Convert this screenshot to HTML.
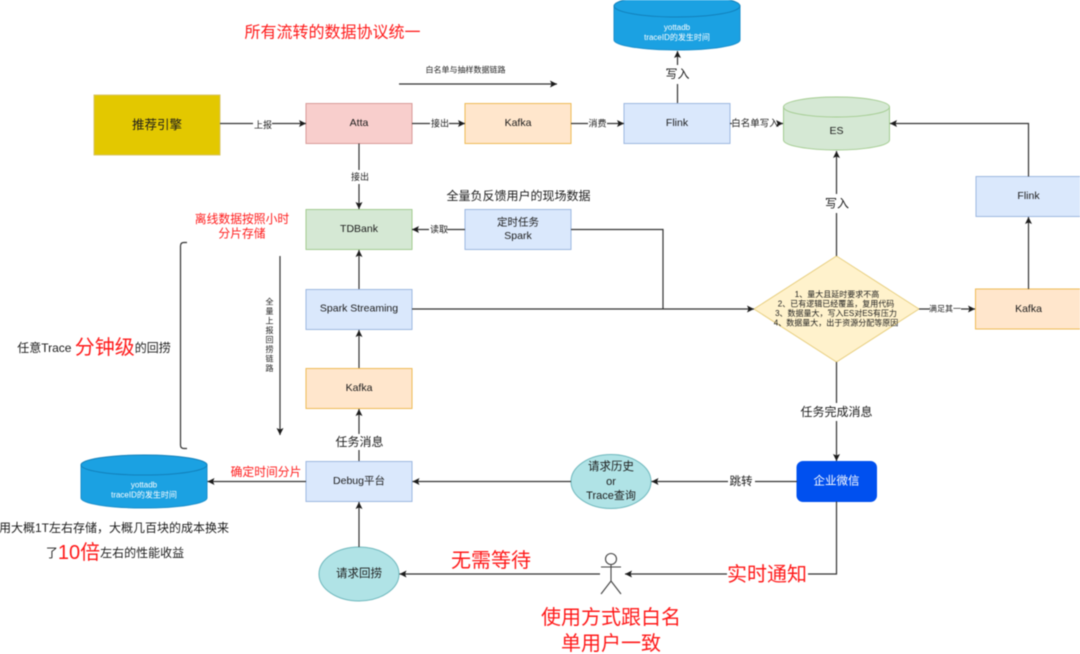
<!DOCTYPE html>
<html><head><meta charset="utf-8"><style>
html,body{margin:0;padding:0;background:#fff}
svg{display:block;filter:blur(.55px)}
text{font-family:"Liberation Sans","Noto Sans CJK SC",sans-serif;fill:#1c1c1c;text-anchor:middle;dominant-baseline:central}
.r{fill:#ff1a1a}
.w{fill:#fff}
.l{fill:none;stroke:#333;stroke-width:1.2}
</style></head><body>
<svg width="1080" height="654" viewBox="0 0 1080 654" xmlns="http://www.w3.org/2000/svg">
<defs><marker id="a" markerWidth="8" markerHeight="8" refX="7" refY="3.500" orient="auto" markerUnits="userSpaceOnUse"><path d="M0 0L7 3.500L0 7L1.500 3.500Z" fill="#1c1c1c"/></marker></defs>
<rect width="1080" height="654" fill="#fff"/>

<!-- nodes -->
<rect x="94" y="95" width="126" height="60" fill="#e3c800" stroke="#d8c66a"/>
<rect x="306" y="103.500" width="106" height="40" fill="#f8cecc" stroke="#d99a98"/>
<rect x="465" y="103.500" width="106" height="40" fill="#ffe6cc" stroke="#eebb55"/>
<rect x="624" y="103.500" width="106" height="40" fill="#dae8fc" stroke="#9db8e0"/>
<path d="M614 6V40A63 10 0 0 0 740 40V6Z" fill="#1ba1e2" stroke="#1a8fcc"/>
<ellipse cx="677" cy="6" rx="63" ry="11" fill="#1ba1e2" stroke="#1280bb"/>
<path d="M783.500 107V140A53 10 0 0 0 889.500 140V107Z" fill="#d5e8d4" stroke="#a3cc90"/>
<ellipse cx="836.500" cy="107" rx="53" ry="10" fill="#d5e8d4" stroke="#a3cc90"/>
<rect x="976" y="176.500" width="110" height="40" fill="#dae8fc" stroke="#9db8e0"/>
<rect x="306" y="209.500" width="106" height="40" fill="#d5e8d4" stroke="#a3cc90"/>
<rect x="465" y="209.500" width="106" height="40" fill="#dae8fc" stroke="#9db8e0"/>
<rect x="306" y="289.500" width="106" height="40" fill="#dae8fc" stroke="#9db8e0"/>
<rect x="975.500" y="289" width="110" height="40" fill="#ffe6cc" stroke="#eebb55"/>
<rect x="306" y="368.500" width="106" height="40" fill="#ffe6cc" stroke="#eebb55"/>
<rect x="306" y="461.500" width="106" height="40" fill="#dae8fc" stroke="#9db8e0"/>
<rect x="797" y="461.500" width="79.500" height="40" rx="6" fill="#0050ef" stroke="#0050ef"/>
<path d="M836.500 256L919 309L836.500 362L754 309Z" fill="#fff2cc" stroke="#e8cf80"/>
<ellipse cx="611" cy="481.500" rx="40" ry="27" fill="#b0e3e6" stroke="#6fb8bd"/>
<ellipse cx="359" cy="574" rx="40" ry="27" fill="#b0e3e6" stroke="#6fb8bd"/>
<path d="M81 465V498A63 10 0 0 0 207 498V465Z" fill="#1ba1e2" stroke="#1a8fcc"/>
<ellipse cx="144" cy="465" rx="63" ry="10" fill="#1ba1e2" stroke="#1280bb"/>

<!-- actor -->
<g fill="none" stroke="#444" stroke-width="1.100">
<circle cx="611" cy="559" r="5.500" fill="#fff"/>
<path d="M611 564.500V581M601 567H621M611 581L601 594M611 581L621 594"/>
</g>

<!-- connectors -->
<g class="l">
<path d="M220 123.500H253M272 123.500H306" marker-end="url(#a)"/>
<path d="M412 123.500H430M449 123.500H465" marker-end="url(#a)"/>
<path d="M571 123.500H588M607 123.500H624" marker-end="url(#a)"/>
<path d="M730 123.500H732M778 123.500H783" marker-end="url(#a)"/>
<path d="M399 84H557" marker-end="url(#a)"/>
<path d="M677.500 103V84M677.500 65V51" marker-end="url(#a)"/>
<path d="M359 143.500V170M359 184V209" marker-end="url(#a)"/>
<path d="M465 229.500H447M429 229.500H412" marker-end="url(#a)"/>
<path d="M571 229.500H663V309"/>
<path d="M412 309H754" marker-end="url(#a)"/>
<path d="M359 289V250" marker-end="url(#a)"/>
<path d="M359 368V330" marker-end="url(#a)"/>
<path d="M359 461V450M359 434V409" marker-end="url(#a)"/>
<path d="M306 481.500H207.500" marker-end="url(#a)"/>
<path d="M571 481.500H412.500" marker-end="url(#a)"/>
<path d="M797 481.500H755M728 481.500H651.500" marker-end="url(#a)"/>
<path d="M836.500 362V403M836.500 421V461" marker-end="url(#a)"/>
<path d="M836.500 256V213M836.500 194V151" marker-end="url(#a)"/>
<path d="M919 309H930M961 309H975" marker-end="url(#a)"/>
<path d="M1028.500 289V217" marker-end="url(#a)"/>
<path d="M1028.500 176.500V123.500H890" marker-end="url(#a)"/>
<path d="M836.500 501.500V574H808M727 574H625" marker-end="url(#a)"/>
<path d="M600 574H399.500" marker-end="url(#a)"/>
<path d="M359 547V502" marker-end="url(#a)"/>
<path d="M280 256V435" marker-end="url(#a)"/>
<path d="M187 242.500H184Q180.500 242.500 180.500 246V445Q180.500 448.500 184 448.500H187"/>
</g>

<!-- node text -->
<text x="157" y="125" font-size="12.500">推荐引擎</text>
<text x="359" y="123" font-size="10.500">Atta</text>
<text x="518" y="123" font-size="10.500">Kafka</text>
<text x="677" y="123" font-size="10.500">Flink</text>
<text x="836.500" y="131" font-size="10.500">ES</text>
<text x="1028.500" y="196" font-size="10.500">Flink</text>
<text x="359" y="229" font-size="10.500">TDBank</text>
<text x="518" y="222.500" font-size="10.500">定时任务</text>
<text x="518" y="236" font-size="10.500">Spark</text>
<text x="359" y="308.500" font-size="10.500">Spark Streaming</text>
<text x="1028.500" y="309" font-size="10.500">Kafka</text>
<text x="359" y="388" font-size="10.500">Kafka</text>
<text x="359" y="481" font-size="10.500">Debug平台</text>
<text x="836.500" y="481.500" font-size="11.500" class="w">企业微信</text>
<text x="611" y="467" font-size="11.500">请求历史</text>
<text x="611" y="482" font-size="11">or</text>
<text x="611" y="496" font-size="11">Trace查询</text>
<text x="359" y="574" font-size="11.500">请求回捞</text>
<text x="677" y="27.500" font-size="8" class="w">yottadb</text>
<text x="677" y="37.500" font-size="8" class="w">traceID的发生时间</text>
<text x="144" y="485" font-size="8" class="w">yottadb</text>
<text x="144" y="495" font-size="8" class="w">traceID的发生时间</text>
<text x="837" y="294.500" font-size="8">1、量大且延时要求不高</text>
<text x="836" y="304" font-size="8">2、已有逻辑已经覆盖，复用代码</text>
<text x="836" y="313.500" font-size="8">3、数据量大，写入ES对ES有压力</text>
<text x="836" y="323" font-size="8">4、数据量大，出于资源分配等原因</text>

<!-- connector labels -->
<text x="263" y="125" font-size="9">上报</text>
<text x="440" y="123.500" font-size="9">接出</text>
<text x="597.500" y="123.500" font-size="9">消费</text>
<text x="755" y="124" font-size="9.500">白名单写入</text>
<text x="465.500" y="70" font-size="8">白名单与抽样数据链路</text>
<text x="677.500" y="74" font-size="12">写入</text>
<text x="360" y="177" font-size="9">接出</text>
<text x="439" y="229.500" font-size="9">读取</text>
<text x="837" y="203.500" font-size="12">写入</text>
<text x="945" y="309" font-size="8">满足其一</text>
<text x="359.500" y="442" font-size="12">任务消息</text>
<text x="836.500" y="412" font-size="12">任务完成消息</text>
<text x="741" y="482" font-size="11.500">跳转</text>
<g font-size="8"><text x="269.500" y="302">全</text><text x="269.500" y="311.500">量</text><text x="269.500" y="321">上</text><text x="269.500" y="330.500">报</text><text x="269.500" y="340">回</text><text x="269.500" y="349.500">捞</text><text x="269.500" y="359">链</text><text x="269.500" y="368.500">路</text></g>

<!-- annotations -->
<text x="332.500" y="33" font-size="16" class="r">所有流转的数据协议统一</text>
<text x="518.500" y="196" font-size="12">全量负反馈用户的现场数据</text>
<text x="242" y="219" font-size="11.800" class="r">离线数据按照小时</text>
<text x="242" y="233.500" font-size="11.800" class="r">分片存储</text>
<text x="94" y="348" font-size="12"><tspan>任意Trace </tspan><tspan font-size="20" style="fill:#ff1a1a">分钟级</tspan><tspan>的回捞</tspan></text>
<text x="266" y="472" font-size="11.800" class="r">确定时间分片</text>
<text x="114" y="528" font-size="12">用大概1T左右存储，大概几百块的成本换来</text>
<text x="115" y="553" font-size="12"><tspan>了</tspan><tspan font-size="20" style="fill:#ff1a1a">10倍</tspan><tspan>左右的性能收益</tspan></text>
<text x="491" y="561" font-size="20" class="r">无需等待</text>
<text x="767" y="575" font-size="20" class="r">实时通知</text>
<text x="611" y="618" font-size="20" class="r">使用方式跟白名</text>
<text x="611" y="644" font-size="20" class="r">单用户一致</text>
</svg>
</body></html>
